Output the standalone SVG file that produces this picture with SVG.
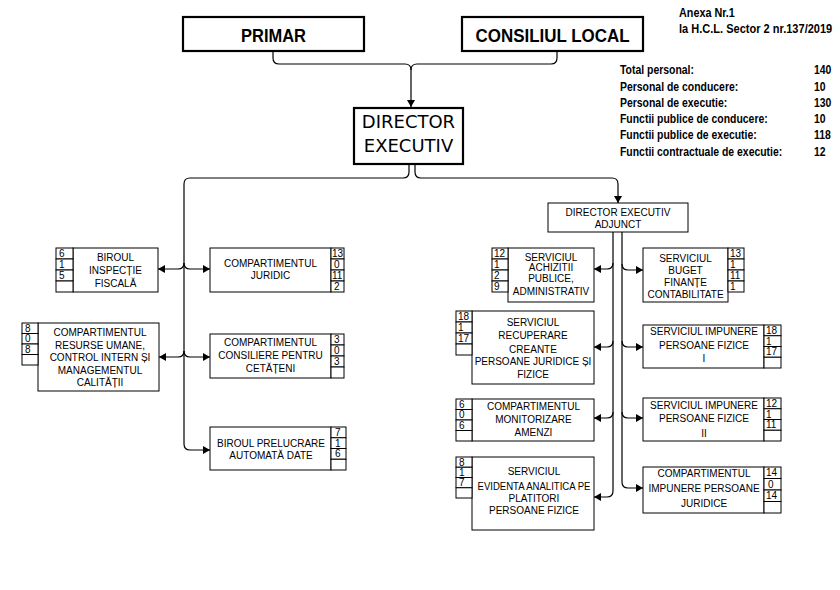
<svg xmlns="http://www.w3.org/2000/svg" width="840" height="590" viewBox="0 0 840 590">
<style>
.bx{fill:#fff;stroke:#000;stroke-width:1}
.bb{fill:#fff;stroke:#000;stroke-width:2.2}
.c{fill:none;stroke:#000;stroke-width:1.2}
.t{font-family:"Liberation Sans",Arial,sans-serif;font-size:10px;text-anchor:middle;fill:#000}
.n{font-family:"Liberation Sans",Arial,sans-serif;font-size:10px;fill:#000}
.big{font-family:"Liberation Sans",Arial,sans-serif;font-size:19px;font-weight:bold;text-anchor:middle;fill:#000}
.dir{font-family:"DejaVu Sans",Verdana,sans-serif;font-size:18px;text-anchor:middle;fill:#000}
.st{font-family:"Liberation Sans",Arial,sans-serif;font-size:12px;font-weight:bold;fill:#000}
</style>
<defs>
<marker id="ah" viewBox="0 0 7 8" refX="7" refY="4" markerWidth="7" markerHeight="8" markerUnits="userSpaceOnUse" orient="auto">
<path d="M0,0 L7,4 L0,8 z" fill="#000"/>
</marker>
</defs>
<rect width="840" height="590" fill="#fff"/>

<g id="annex">
<text class="st" transform="translate(679,17) scale(0.9,1)">Anexa Nr.1</text>
<text class="st" transform="translate(679,33) scale(0.92,1)">la H.C.L. Sector 2 nr.137/2019</text>
</g>
<g id="stats">
<text class="st" transform="translate(620,74) scale(0.87,1)">Total personal:</text>
<text class="st" transform="translate(620,91) scale(0.87,1)">Personal de conducere:</text>
<text class="st" transform="translate(620,107) scale(0.87,1)">Personal de executie:</text>
<text class="st" transform="translate(620,123) scale(0.87,1)">Functii publice de conducere:</text>
<text class="st" transform="translate(620,139) scale(0.87,1)">Functii publice de executie:</text>
<text class="st" transform="translate(620,156) scale(0.87,1)">Functii contractuale de executie:</text>
<text class="st" transform="translate(814,74) scale(0.87,1)">140</text>
<text class="st" transform="translate(814,91) scale(0.87,1)">10</text>
<text class="st" transform="translate(814,107) scale(0.87,1)">130</text>
<text class="st" transform="translate(814,123) scale(0.87,1)">10</text>
<text class="st" transform="translate(814,139) scale(0.87,1)">118</text>
<text class="st" transform="translate(814,156) scale(0.87,1)">12</text>
</g>

<g id="connectors">
<path class="c" d="M273,51 V58 Q273,64 279,64 H405 Q411,64 411,70 V107" marker-end="url(#ah)"/>
<path class="c" d="M557,51 V58 Q557,64 551,64 H417 Q411,64 411,70"/>
<path class="c" d="M409,164 V172 Q409,178 403,178 H190 Q184,178 184,184 V444 Q184,450 190,450 H210" marker-end="url(#ah)"/>
<path class="c" d="M415,164 V172 Q415,178 421,178 H612 Q618,178 618,184 V203" marker-end="url(#ah)"/>
<path class="c" d="M184,263 Q184,269 178,269 H158" marker-end="url(#ah)"/>
<path class="c" d="M184,263 Q184,269 190,269 H210" marker-end="url(#ah)"/>
<path class="c" d="M184,351 Q184,357 178,357 H159" marker-end="url(#ah)"/>
<path class="c" d="M184,351 Q184,357 190,357 H210" marker-end="url(#ah)"/>
<path class="c" d="M613,232 V491 Q613,497 607,497 H594" marker-end="url(#ah)"/>
<path class="c" d="M613,263 Q613,269 607,269 H594" marker-end="url(#ah)"/>
<path class="c" d="M613,341 Q613,347 607,347 H594" marker-end="url(#ah)"/>
<path class="c" d="M613,412 Q613,418 607,418 H594" marker-end="url(#ah)"/>
<path class="c" d="M622,232 V482 Q622,488 628,488 H643" marker-end="url(#ah)"/>
<path class="c" d="M622,264 Q622,270 628,270 H643" marker-end="url(#ah)"/>
<path class="c" d="M622,341 Q622,347 628,347 H643" marker-end="url(#ah)"/>
<path class="c" d="M622,412 Q622,418 628,418 H643" marker-end="url(#ah)"/>
</g>

<g id="primar">
<rect class="bb" x="183" y="17" width="181" height="34"/>
<text class="big" x="273.5" y="42" textLength="65" lengthAdjust="spacingAndGlyphs">PRIMAR</text>
</g>
<g id="consiliul">
<rect class="bb" x="462" y="17" width="181" height="34"/>
<text class="big" x="552.5" y="42" textLength="154" lengthAdjust="spacingAndGlyphs">CONSILIUL LOCAL</text>
</g>
<g id="director">
<rect class="bb" x="354" y="108" width="109" height="56"/>
<text class="dir" x="408.5" y="128">DIRECTOR</text>
<text class="dir" x="408.5" y="152">EXECUTIV</text>
</g>
<g id="adjunct">
<rect class="bx" x="548" y="203" width="140" height="29"/>
<text class="t" x="618" y="216">DIRECTOR EXECUTIV</text>
<text class="t" x="618" y="228">ADJUNCT</text>
</g>

<g id="inspectie">
<rect class="bx" x="73" y="248" width="85" height="44"/>
<rect class="bx" x="56" y="248" width="17" height="11"/>
<rect class="bx" x="56" y="259" width="17" height="11"/>
<rect class="bx" x="56" y="270" width="17" height="11"/>
<rect class="bx" x="56" y="281" width="17" height="11"/>
<text class="n" x="59" y="257">6</text>
<text class="n" x="59" y="268">1</text>
<text class="n" x="59" y="279">5</text>
<text class="t" x="115.5" y="261">BIROUL</text>
<text class="t" x="115.5" y="274">INSPECȚIE</text>
<text class="t" x="115.5" y="287">FISCALĂ</text>
</g>
<g id="resurse">
<rect class="bx" x="38" y="323" width="121" height="68"/>
<rect class="bx" x="22" y="323" width="16" height="10.5"/>
<rect class="bx" x="22" y="333.5" width="16" height="10.5"/>
<rect class="bx" x="22" y="344" width="16" height="10.5"/>
<rect class="bx" x="22" y="354.5" width="16" height="10.5"/>
<text class="n" x="25" y="331.5">8</text>
<text class="n" x="25" y="342">0</text>
<text class="n" x="25" y="352.5">8</text>
<text class="t" x="100" y="336">COMPARTIMENTUL</text>
<text class="t" x="100" y="348.5">RESURSE UMANE,</text>
<text class="t" x="100" y="361">CONTROL INTERN ȘI</text>
<text class="t" x="100" y="373.5">MANAGEMENTUL</text>
<text class="t" x="100" y="386">CALITĂȚII</text>
</g>
<g id="juridic">
<rect class="bx" x="210" y="248" width="121" height="44"/>
<rect class="bx" x="331" y="248" width="13" height="11"/>
<rect class="bx" x="331" y="259" width="13" height="11"/>
<rect class="bx" x="331" y="270" width="13" height="11"/>
<rect class="bx" x="331" y="281" width="13" height="11"/>
<text class="n" x="332" y="257">13</text>
<text class="n" x="334" y="268">0</text>
<text class="n" x="332" y="279">11</text>
<text class="n" x="334" y="290">2</text>
<text class="t" x="270.5" y="267">COMPARTIMENTUL</text>
<text class="t" x="270.5" y="279">JURIDIC</text>
</g>
<g id="consiliere">
<rect class="bx" x="210" y="334" width="121" height="44"/>
<rect class="bx" x="331" y="334" width="13" height="11"/>
<rect class="bx" x="331" y="345" width="13" height="11"/>
<rect class="bx" x="331" y="356" width="13" height="11"/>
<rect class="bx" x="331" y="367" width="13" height="11"/>
<text class="n" x="334" y="343">3</text>
<text class="n" x="334" y="354">0</text>
<text class="n" x="334" y="365">3</text>
<text class="t" x="270.5" y="346">COMPARTIMENTUL</text>
<text class="t" x="270.5" y="359">CONSILIERE PENTRU</text>
<text class="t" x="270.5" y="372">CETĂȚENI</text>
</g>
<g id="prelucrare">
<rect class="bx" x="210" y="427" width="121" height="43"/>
<rect class="bx" x="331" y="427" width="15" height="10.75"/>
<rect class="bx" x="331" y="437.75" width="15" height="10.75"/>
<rect class="bx" x="331" y="448.5" width="15" height="10.75"/>
<rect class="bx" x="331" y="459.25" width="15" height="10.75"/>
<text class="n" x="335" y="436">7</text>
<text class="n" x="335" y="446.5">1</text>
<text class="n" x="335" y="457">6</text>
<text class="t" x="271" y="447">BIROUL PRELUCRARE</text>
<text class="t" x="271" y="459">AUTOMATĂ DATE</text>
</g>

<g id="achizitii">
<rect class="bx" x="508" y="248" width="86" height="54"/>
<rect class="bx" x="492" y="248" width="16" height="11"/>
<rect class="bx" x="492" y="259" width="16" height="11"/>
<rect class="bx" x="492" y="270" width="16" height="11"/>
<rect class="bx" x="492" y="281" width="16" height="11"/>
<text class="n" x="494" y="257">12</text>
<text class="n" x="494" y="268">1</text>
<text class="n" x="494" y="279">2</text>
<text class="n" x="494" y="290">9</text>
<text class="t" x="551" y="261">SERVICIUL</text>
<text class="t" x="551" y="271">ACHIZITII</text>
<text class="t" x="551" y="282">PUBLICE,</text>
<text class="t" x="551" y="295">ADMINISTRATIV</text>
</g>
<g id="recuperare">
<rect class="bx" x="472" y="311" width="122" height="73"/>
<rect class="bx" x="456" y="311" width="16" height="11"/>
<rect class="bx" x="456" y="322" width="16" height="11"/>
<rect class="bx" x="456" y="333" width="16" height="11"/>
<rect class="bx" x="456" y="344" width="16" height="11"/>
<text class="n" x="458" y="320">18</text>
<text class="n" x="458" y="331">1</text>
<text class="n" x="458" y="342">17</text>
<text class="t" x="533" y="326">SERVICIUL</text>
<text class="t" x="533" y="339">RECUPERARE</text>
<text class="t" x="533" y="353">CREANTE</text>
<text class="t" x="533" y="365">PERSOANE JURIDICE ȘI</text>
<text class="t" x="533" y="378">FIZICE</text>
</g>
<g id="monitorizare">
<rect class="bx" x="472" y="399" width="122" height="42"/>
<rect class="bx" x="456" y="399" width="16" height="10.5"/>
<rect class="bx" x="456" y="409.5" width="16" height="10.5"/>
<rect class="bx" x="456" y="420" width="16" height="10.5"/>
<rect class="bx" x="456" y="430.5" width="16" height="10.5"/>
<text class="n" x="459" y="407.5">6</text>
<text class="n" x="459" y="418">0</text>
<text class="n" x="459" y="428.5">6</text>
<text class="t" x="533.5" y="410">COMPARTIMENTUL</text>
<text class="t" x="533.5" y="423">MONITORIZARE</text>
<text class="t" x="533.5" y="436">AMENZI</text>
</g>
<g id="evidenta">
<rect class="bx" x="472" y="457" width="122" height="73"/>
<rect class="bx" x="456" y="457" width="16" height="10.25"/>
<rect class="bx" x="456" y="467.25" width="16" height="10.25"/>
<rect class="bx" x="456" y="477.5" width="16" height="10.25"/>
<rect class="bx" x="456" y="487.75" width="16" height="10.25"/>
<text class="n" x="459" y="465.5">8</text>
<text class="n" x="459" y="475.75">1</text>
<text class="n" x="459" y="486">7</text>
<text class="t" x="534" y="475">SERVICIUL</text>
<text class="t" x="534" y="490" textLength="113" lengthAdjust="spacingAndGlyphs">EVIDENTA ANALITICA PE</text>
<text class="t" x="534" y="502">PLATITORI</text>
<text class="t" x="534" y="514">PERSOANE FIZICE</text>
</g>

<g id="buget">
<rect class="bx" x="643" y="248" width="85" height="54"/>
<rect class="bx" x="728" y="248" width="16" height="11"/>
<rect class="bx" x="728" y="259" width="16" height="11"/>
<rect class="bx" x="728" y="270" width="16" height="11"/>
<rect class="bx" x="728" y="281" width="16" height="11"/>
<text class="n" x="730" y="257">13</text>
<text class="n" x="730" y="268">1</text>
<text class="n" x="730" y="279">11</text>
<text class="n" x="730" y="290">1</text>
<text class="t" x="685.5" y="262">SERVICIUL</text>
<text class="t" x="685.5" y="274">BUGET</text>
<text class="t" x="685.5" y="286">FINANȚE</text>
<text class="t" x="685.5" y="298">CONTABILITATE</text>
</g>
<g id="impunere1">
<rect class="bx" x="643" y="325" width="121" height="43"/>
<rect class="bx" x="764" y="325" width="17" height="10.75"/>
<rect class="bx" x="764" y="335.75" width="17" height="10.75"/>
<rect class="bx" x="764" y="346.5" width="17" height="10.75"/>
<rect class="bx" x="764" y="357.25" width="17" height="10.75"/>
<text class="n" x="766" y="334">18</text>
<text class="n" x="766" y="344.5">1</text>
<text class="n" x="766" y="355">17</text>
<text class="t" x="704" y="335">SERVICIUL IMPUNERE</text>
<text class="t" x="704" y="349">PERSOANE FIZICE</text>
<text class="t" x="704" y="362">I</text>
</g>
<g id="impunere2">
<rect class="bx" x="643" y="398" width="121" height="43"/>
<rect class="bx" x="764" y="398" width="17" height="10.75"/>
<rect class="bx" x="764" y="408.75" width="17" height="10.75"/>
<rect class="bx" x="764" y="419.5" width="17" height="10.75"/>
<rect class="bx" x="764" y="430.25" width="17" height="10.75"/>
<text class="n" x="766" y="407">12</text>
<text class="n" x="766" y="417.5">1</text>
<text class="n" x="766" y="428">11</text>
<text class="t" x="704" y="409">SERVICIUL IMPUNERE</text>
<text class="t" x="704" y="422">PERSOANE FIZICE</text>
<text class="t" x="704" y="437">II</text>
</g>
<g id="impunerepj">
<rect class="bx" x="643" y="467" width="121" height="46"/>
<rect class="bx" x="764" y="467" width="17" height="11.5"/>
<rect class="bx" x="764" y="478.5" width="17" height="11.5"/>
<rect class="bx" x="764" y="490" width="17" height="11.5"/>
<rect class="bx" x="764" y="501.5" width="17" height="11.5"/>
<text class="n" x="766" y="476">14</text>
<text class="n" x="768" y="487.5">0</text>
<text class="n" x="766" y="499">14</text>
<text class="t" x="704" y="477">COMPARTIMENTUL</text>
<text class="t" x="704" y="492">IMPUNERE PERSOANE</text>
<text class="t" x="704" y="507">JURIDICE</text>
</g>
</svg>
